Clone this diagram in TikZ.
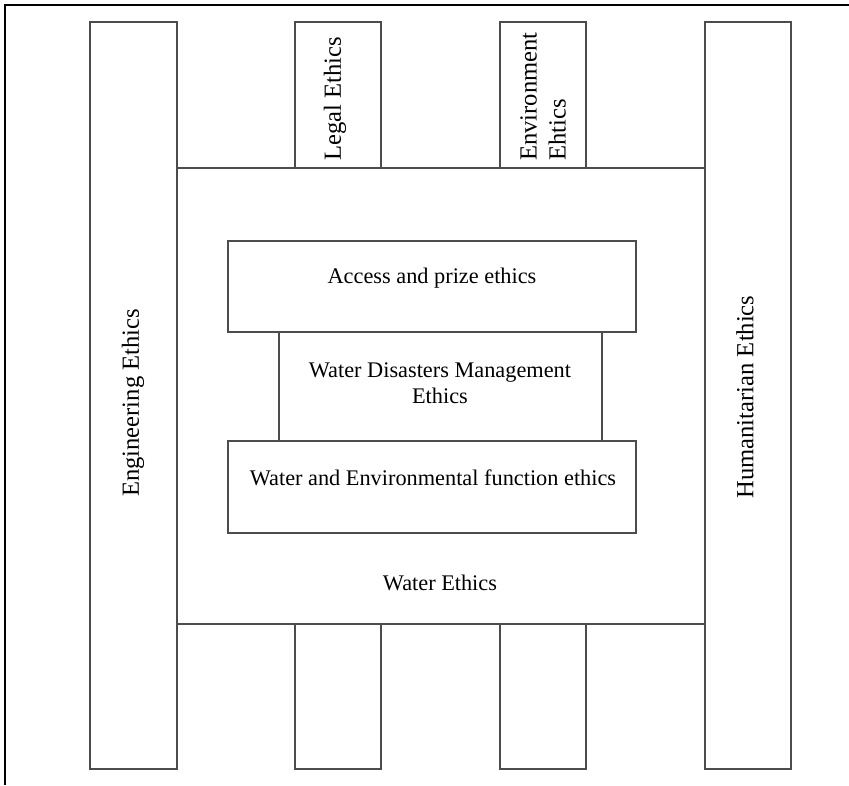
\documentclass[tikz,border=0pt]{standalone}
\usepackage{fontspec}
\setmainfont{Liberation Serif}

\begin{document}
\begin{tikzpicture}[x=0.02cm,y=0.02cm,
    box/.style={draw=black!70,line width=0.9pt},
    flat/.style={font=\fontsize{12.7}{15}\selectfont},
    upright/.style={font=\fontsize{14}{16.5}\selectfont,rotate=90,anchor=west,align=left}]
            \useasboundingbox (0,0) rectangle (849,785);

            % outer frame (top and left only)
            \draw[line width=1.2pt] (5,0)--(5,780)--(849,780);

            % pillars
            \coordinate (EngBL) at (90,16);
            \coordinate (EngTR) at (177,763);
            \coordinate (HumBL) at (705,16);
            \coordinate (HumTR) at (791,763);
            \draw[box] (EngBL) rectangle (EngTR);
            \draw[box] (HumBL) rectangle (HumTR);

            % water ethics block
            \coordinate (WatBL) at (177,161);
            \coordinate (WatTR) at (705,617);
            \draw[box] (WatBL) rectangle (WatTR);

            % short pillars above and below
            \draw[box] (295,617) rectangle (381,763);
            \draw[box] (500,617) rectangle (586,763);
            \draw[box] (295,16) rectangle (381,161);
            \draw[box] (500,16) rectangle (586,161);

            % inner boxes
            \draw[box] (279,344) rectangle (602,453);
            \draw[box] (228,453) rectangle (636,544);
            \draw[box] (228,252) rectangle (636,344);

            \node[flat] (access) at (432,507) {Access and prize ethics};
            \node[flat,align=center] (disaster) at (440,402) {Water Disasters Management\\Ethics};
            \node[flat] (function) at (433,307) {Water and Environmental function ethics};
            \node[flat] (water) at (440,202) {Water Ethics};

            \node[upright,anchor=center] (eng) at (133,382) {Engineering Ethics};
            \node[upright,anchor=center] (hum) at (745,388) {Humanitarian Ethics};
            \node[upright] (legal) at (335,618) {Legal Ethics};
            \node[upright] (env) at (543,618) {Environment\\Ehtics};
        \end{tikzpicture}
\end{document}
